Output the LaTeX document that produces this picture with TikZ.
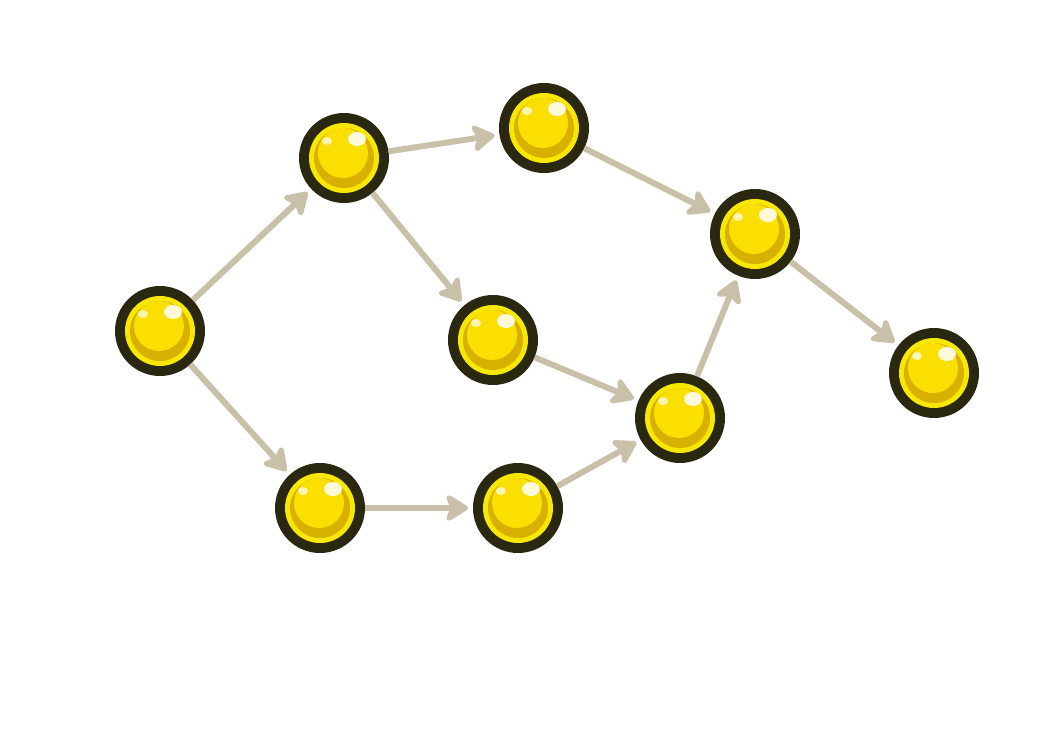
\documentclass[tikz,border=0pt]{standalone}
\usetikzlibrary{arrows.meta}
\definecolor{ringdark}{HTML}{2B2812}
\definecolor{rimyellow}{HTML}{F8E800}
\definecolor{golddark}{HTML}{D8B000}
\definecolor{goldmain}{HTML}{FBDF00}
\definecolor{arrowcol}{HTML}{C9C0AA}
\tikzset{
  coin/.style={circle, minimum size=90pt, inner sep=0pt, outer sep=0pt, fill=ringdark},
  link/.style={color=arrowcol, line width=6pt, shorten >=5pt,
    -{Stealth[length=26pt,width=32pt,inset=6pt,round,fill=arrowcol]}}
}
\newcommand{\coindecor}[1]{%
  \fill[rimyellow] (#1) circle[radius=35pt];
  \fill[golddark] (#1) circle[radius=30pt];
  \fill[goldmain] ([xshift=-1pt,yshift=5pt]#1) circle[radius=25pt];
  \fill[white,opacity=0.85] ([xshift=13pt,yshift=19pt]#1) ellipse[x radius=9pt,y radius=7pt];
  \fill[white,opacity=0.7] ([xshift=-17pt,yshift=17pt]#1) ellipse[x radius=5pt,y radius=4pt];
}
\begin{document}
\begin{tikzpicture}[x=1pt,y=-1pt]
\useasboundingbox (0,0) rectangle (1050,731);
\node[coin] (A) at (160,331) {};
\node[coin] (B) at (344,158) {};
\node[coin] (C) at (544,128) {};
\node[coin] (D) at (755,234) {};
\node[coin] (E) at (493,340) {};
\node[coin] (F) at (680,418) {};
\node[coin] (G) at (934,373) {};
\node[coin] (H) at (320,508) {};
\node[coin] (I) at (518,508) {};
\foreach \n in {A,B,C,D,E,F,G,H,I} {\coindecor{\n}}
\draw[link] (A) -- (B);
\draw[link] (A) -- (H);
\draw[link] (B) -- (C);
\draw[link] (B) -- (E);
\draw[link] (C) -- (D);
\draw[link] (E) -- (F);
\draw[link] (H) -- (I);
\draw[link] (I) -- (F);
\draw[link] (F) -- (D);
\draw[link] (D) -- (G);
\end{tikzpicture}
\end{document}
